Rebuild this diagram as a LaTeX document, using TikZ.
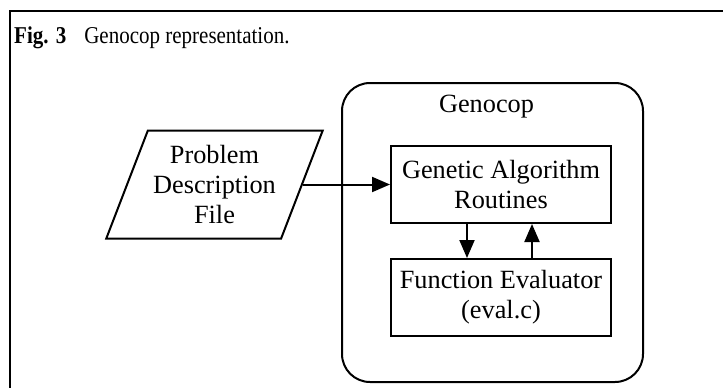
\documentclass[tikz,border=0pt]{standalone}
\usepackage{fontspec}
\setmainfont{Liberation Serif}
\usetikzlibrary{arrows.meta,positioning,shapes.geometric}

\begin{document}
\begin{tikzpicture}[x=1pt,y=-1pt,
  node distance=34pt and 68pt,
  txt/.style={font=\fontsize{26.3}{30}\selectfont,align=center,inner sep=0pt},
  box/.style={txt,draw,line width=2pt,minimum width=220pt,minimum height=77pt},
  datafile/.style={txt,draw,line width=2pt,trapezium,trapezium left angle=64,
    trapezium right angle=116,trapezium stretches=true,minimum width=217pt,minimum height=108pt},
  container/.style={draw,line width=2pt,rounded corners=28pt,minimum width=301pt,minimum height=299pt},
  arr/.style={-{Triangle[length=18pt,width=15pt]},line width=2pt}
]
\useasboundingbox (0,0) rectangle (723,388);
% frame and caption
\draw[line width=2.5pt] (10,388) -- (10,11) -- (723,11);
\node[anchor=base west,inner sep=0pt,font=\fontsize{21}{24}\selectfont] (caption) at (14,43)
  {\scalebox{1}[1.15]{\textbf{Fig.\hspace{0.35em}3}\hspace{0.85em}Genocop representation.}};

\node[container] (genocop) at (492.5,232.5) {};
\node[txt,below=13pt of genocop.north,xshift=-6pt] (genolabel) {Genocop};
\node[box] (ga) at (501,184.5) {Genetic Algorithm\\Routines};
\node[box,below=of ga] (fe) {Function Evaluator\\(eval.c)};
\node[datafile] (file) at (214.5,184.5) {Problem\\Description\\File};

\draw[arr] (file.east) -- (file.east -| ga.west);
\draw[arr] ([xshift=-34pt]ga.south) -- ([xshift=-34pt]fe.north);
\draw[arr] ([xshift=31pt]fe.north) -- ([xshift=31pt]ga.south);
\end{tikzpicture}
\end{document}
